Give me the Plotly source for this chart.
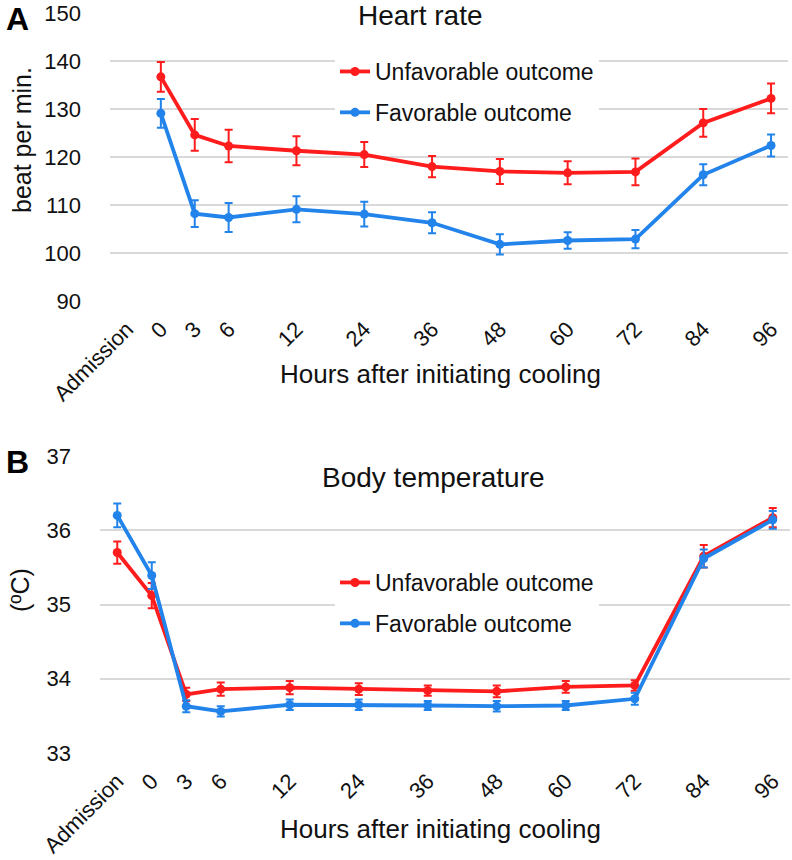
import plotly.graph_objects as go

# ---------------- data ----------------
categories = ["Admission", "0", "3", "6", "12", "24", "36", "48", "60", "72", "84", "96"]
hr_categories = categories[1:]  # heart rate has no admission value

hr_unfav = [136.7, 124.6, 122.3, 121.3, 120.5, 118.0, 117.0, 116.7, 116.9, 127.1, 132.2]
hr_unfav_err = [3.1, 3.3, 3.4, 3.0, 2.6, 2.2, 2.6, 2.4, 2.8, 2.9, 3.1]
hr_fav = [129.1, 108.2, 107.4, 109.1, 108.1, 106.3, 101.8, 102.6, 102.9, 116.3, 122.4]
hr_fav_err = [3.0, 2.8, 3.0, 2.7, 2.6, 2.2, 2.1, 1.7, 1.9, 2.2, 2.3]

bt_unfav = [35.70, 35.12, 33.79, 33.86, 33.88, 33.86, 33.84, 33.83, 33.89, 33.91, 35.65, 36.17]
bt_unfav_err = [0.15, 0.17, 0.09, 0.09, 0.09, 0.08, 0.07, 0.08, 0.08, 0.07, 0.15, 0.13]
bt_fav = [36.20, 35.39, 33.63, 33.56, 33.65, 33.65, 33.64, 33.63, 33.64, 33.73, 35.62, 36.14]
bt_fav_err = [0.16, 0.18, 0.08, 0.07, 0.07, 0.07, 0.06, 0.07, 0.06, 0.08, 0.12, 0.12]

hr_ticks = [90, 100, 110, 120, 130, 140, 150]
bt_ticks = [33, 34, 35, 36, 37]


def axis_pos(label):
    """Position on the original chart's x scale (admission slot, half-steps to 6 h, 12 h steps after)."""
    if label == "Admission":
        return -0.5
    h = float(label)
    return h / 6.0 if h <= 6 else h / 12.0 + 1.0


RED = "#FF1C1C"
BLUE = "#2283EA"
FONT = "Arial, Liberation Sans, sans-serif"
TXT = "#111111"
W, H = 792, 860


def px(x):
    return x / W


def py(y):
    return 1 - y / H


fig = go.Figure()


def add_series(x_labels, y, err, color, name, xa, ya, legend, group):
    fig.add_trace(go.Scatter(
        x=[axis_pos(c) for c in x_labels], y=y,
        error_y=dict(type="data", array=err, visible=True, color=color, thickness=2, width=4),
        mode="lines+markers", name=name,
        line=dict(color=color, width=3.8),
        marker=dict(color=color, size=9),
        xaxis=xa, yaxis=ya, legend=legend, legendgroup=group,
    ))


add_series(hr_categories, hr_unfav, hr_unfav_err, RED, "Unfavorable outcome", "x", "y", "legend", "a1")
add_series(hr_categories, hr_fav, hr_fav_err, BLUE, "Favorable outcome", "x", "y", "legend", "a2")
add_series(categories, bt_unfav, bt_unfav_err, RED, "Unfavorable outcome", "x2", "y2", "legend2", "b1")
add_series(categories, bt_fav, bt_fav_err, BLUE, "Favorable outcome", "x2", "y2", "legend2", "b2")

tickvals = [axis_pos(c) for c in categories]
xcommon = dict(
    range=[-0.75, 9.25], tickmode="array", tickvals=tickvals, ticktext=categories,
    tickangle=-45, showgrid=False, zeroline=False, showline=False, ticks="",
    tickfont=dict(family=FONT, size=22, color=TXT), automargin=False, ticklabelstandoff=10,
    ticklabeloverflow="allow",
)
ycommon = dict(
    showgrid=True, gridcolor="#D9D9D9", gridwidth=1.5, zeroline=False, showline=False, ticks="",
    tickfont=dict(family=FONT, size=22, color=TXT), ticklabelstandoff=28, automargin=False,
    ticklabeloverflow="allow",
)

legend_style = dict(
    bgcolor="white", font=dict(family=FONT, size=23, color=TXT),
    xanchor="left", yanchor="top", tracegroupgap=8, itemwidth=30, traceorder="grouped",
)

fig.update_layout(
    width=W, height=H, margin=dict(l=0, r=0, t=0, b=0),
    paper_bgcolor="white", plot_bgcolor="white",
    xaxis=dict(domain=[px(110), px(788)], anchor="y", **xcommon),
    yaxis=dict(domain=[py(301), py(13)], range=[90, 150], tickvals=hr_ticks, anchor="x", **ycommon),
    xaxis2=dict(domain=[px(100), px(790)], anchor="y2", **xcommon),
    yaxis2=dict(domain=[py(753), py(456)], range=[33, 37], tickvals=bt_ticks, anchor="x2", **ycommon),
    legend=dict(x=px(335), y=py(50), **legend_style),
    legend2=dict(x=px(335), y=py(561), **legend_style),
    showlegend=True,
)


def ann(text, x, y, size, angle=0, bg=None, color=TXT):
    fig.add_annotation(text=text, x=px(x), y=py(y), xref="paper", yref="paper",
                       showarrow=False, textangle=angle, bgcolor=bg,
                       font=dict(family=FONT, size=size, color=color),
                       xanchor="center", yanchor="middle")


ann("Heart rate", 420, 15, 28, bg="white")
ann("Body temperature", 433, 477, 28, bg="white")
ann("Hours after initiating cooling", 440, 374, 26)
ann("Hours after initiating cooling", 440, 829, 26)
ann("beat per min.", 22, 140, 25, angle=-90)
ann("(ºC)", 20, 590, 25, angle=-90)
ann("<b>A</b>", 17, 19, 32, color="#000")
ann("<b>B</b>", 17, 462, 32, color="#000")

fig.write_html("out.html", config={"displayModeBar": False},
               post_script="document.body.style.margin='0';")
